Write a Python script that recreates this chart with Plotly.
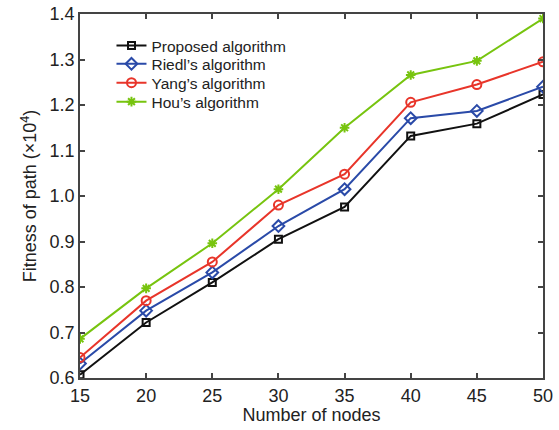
import plotly.graph_objects as go

nodes = [15, 20, 25, 30, 35, 40, 45, 50]
proposed = [0.607, 0.722, 0.810, 0.905, 0.976, 1.132, 1.159, 1.223]
riedl = [0.632, 0.748, 0.832, 0.934, 1.015, 1.171, 1.187, 1.240]
yang = [0.645, 0.770, 0.855, 0.980, 1.048, 1.206, 1.245, 1.295]
hou = [0.686, 0.797, 0.896, 1.015, 1.150, 1.266, 1.297, 1.390]

series = [
    ("Proposed algorithm", proposed, "#111111", "square-open", 7),
    ("Riedl\u2019s algorithm", riedl, "#2a4aa8", "diamond-open", 9),
    ("Yang\u2019s algorithm", yang, "#e8352a", "circle-open", 9),
    ("Hou\u2019s algorithm", hou, "#77c40f", "asterisk-open", 8),
]
legend_rows = [0.912, 0.862, 0.810, 0.758]
legend_ids = ["legend", "legend2", "legend3", "legend4"]

fig = go.Figure()
for (name, vals, color, sym, size), lid in zip(series, legend_ids):
    fig.add_trace(go.Scatter(
        x=nodes, y=vals, name=name, mode="lines+markers", legend=lid,
        line=dict(color=color, width=2),
        marker=dict(symbol=sym, size=size, color=color, line=dict(color=color, width=2)),
    ))

axis_common = dict(
    showline=True, linecolor="#444444", linewidth=1.8, mirror="ticks",
    ticks="inside", ticklen=5, tickcolor="#444444", tickwidth=1.8,
    showgrid=False, zeroline=False, automargin=False,
    tickfont=dict(family="Liberation Sans, Arial", size=18, color="#222222"),
)

legend_layout = {}
for lid, yr in zip(legend_ids, legend_rows):
    legend_layout[lid] = dict(x=0.068, y=yr, xanchor="left", yanchor="middle",
                              bgcolor="rgba(255,255,255,0)", font=dict(size=15.5),
                              itemwidth=30, borderwidth=0)

fig.update_layout(
    width=559, height=430,
    margin=dict(l=80, r=16, t=14, b=52),
    paper_bgcolor="white", plot_bgcolor="white",
    font=dict(family="Liberation Sans, Arial", color="#222222"),
    xaxis=dict(range=[15, 50], tickvals=nodes,
               title=dict(text="Number of nodes", font=dict(size=18), standoff=2),
               **axis_common),
    yaxis=dict(range=[0.6, 1.4], dtick=0.1, tickformat=".1f",
               title=dict(text="Fitness of path (\u00d710<sup>4</sup>)", font=dict(size=18), standoff=8),
               **axis_common),
    showlegend=True,
    **legend_layout,
)

fig.write_html("out.html")
